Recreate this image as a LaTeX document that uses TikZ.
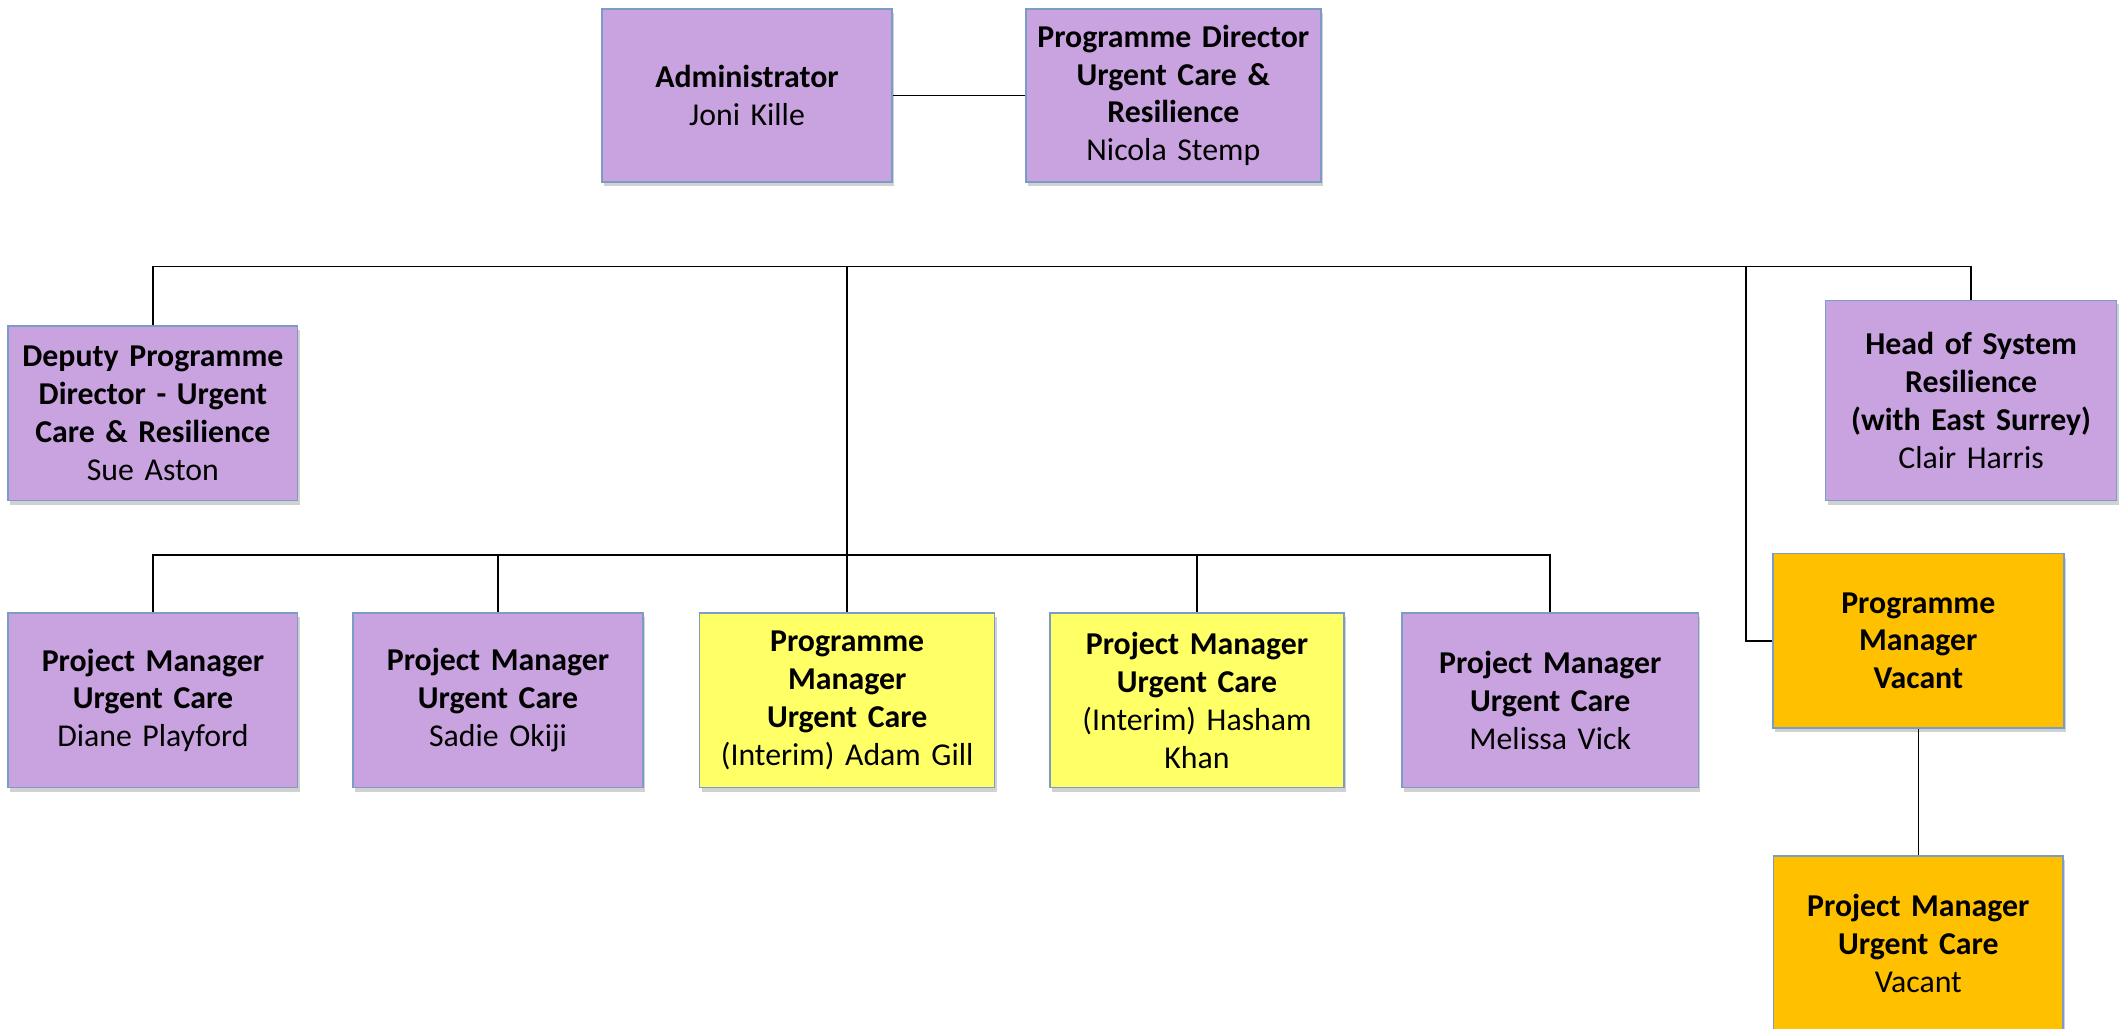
\documentclass[tikz,border=0pt]{standalone}
\usepackage{fontspec}
\setmainfont{Carlito}
\usetikzlibrary{shadows}
\definecolor{purp}{HTML}{C9A3E0}
\definecolor{yell}{HTML}{FFFF66}
\definecolor{gold}{HTML}{FFC000}
\definecolor{edge}{HTML}{7C9CC8}
\tikzset{
  box/.style={draw=edge, line width=1.1pt, rectangle, inner sep=0pt, align=center,
    minimum height=#1, font=\fontsize{23.5}{28}\selectfont,
    drop shadow={shadow xshift=1.5pt, shadow yshift=-3pt, opacity=0.18, fill=black}},
  box/.default=128pt,
  conn/.style={line width=1.2pt, black}
}
\begin{document}
\begin{tikzpicture}[x=1pt,y=-1pt]
\useasboundingbox (0,0) rectangle (1568,760);
% top row
\node[box, fill=purp, minimum width=214pt, text width=210pt] (admin) at (552,70.5)
  {\textbf{Administrator}\\Joni Kille};
\node[box, fill=purp, minimum width=218pt, text width=214pt] (director) at (867,70.5)
  {\textbf{Programme Director}\\\textbf{Urgent Care \&}\\\textbf{Resilience}\\Nicola Stemp};
% middle row
\node[box=129pt, fill=purp, minimum width=214pt, text width=210pt] (deputy) at (113,305.5)
  {\textbf{Deputy Programme}\\\textbf{Director - Urgent}\\\textbf{Care \& Resilience}\\Sue Aston};
\node[box=148pt, fill=purp, minimum width=215pt, text width=211pt] (head) at (1456.5,296)
  {\textbf{Head of System}\\\textbf{Resilience}\\\textbf{(with East Surrey)}\\Clair Harris};
% bottom row
\node[box=129pt, fill=purp, minimum width=214pt, text width=210pt] (diane) at (113,517.5)
  {\textbf{Project Manager}\\\textbf{Urgent Care}\\Diane Playford};
\node[box=129pt, fill=purp, minimum width=214pt, text width=210pt] (sadie) at (368,517.5)
  {\textbf{Project Manager}\\\textbf{Urgent Care}\\Sadie Okiji};
\node[box=129pt, fill=yell, minimum width=218pt, text width=214pt] (adam) at (626,517.5)
  {\textbf{Programme}\\\textbf{Manager}\\\textbf{Urgent Care}\\(Interim) Adam Gill};
\node[box=129pt, fill=yell, minimum width=217pt, text width=213pt] (hasham) at (884.5,517.5)
  {\textbf{Project Manager}\\\textbf{Urgent Care}\\(Interim) Hasham\\Khan};
\node[box=129pt, fill=purp, minimum width=219pt, text width=215pt] (melissa) at (1145.5,517.5)
  {\textbf{Project Manager}\\\textbf{Urgent Care}\\Melissa Vick};
% right column
\node[box=129pt, fill=gold, minimum width=215pt, text width=211pt] (pmvac) at (1417.5,473.5)
  {\textbf{Programme}\\\textbf{Manager}\\\textbf{Vacant}};
\node[box=129pt, fill=gold, minimum width=214pt, text width=210pt] (projvac) at (1417.5,697)
  {\textbf{Project Manager}\\\textbf{Urgent Care}\\Vacant};
% connectors
\coordinate (bus) at (0,197);
\coordinate (bus2) at (0,410);
\coordinate (tap) at (1290,197);
\draw[conn] (admin.east) -- (director.west);
\draw[conn] (deputy.north) -- (deputy.north |- bus) -- (head.north |- bus) -- (head.north);
\draw[conn] (adam.north |- bus) -- (adam.north);
\draw[conn] (diane.north) -- (diane.north |- bus2) -- (melissa.north |- bus2) -- (melissa.north);
\draw[conn] (sadie.north |- bus2) -- (sadie.north);
\draw[conn] (hasham.north |- bus2) -- (hasham.north);
\draw[conn] (tap) |- (pmvac.west);
\draw[conn] (pmvac.south) -- (projvac.north);
\end{tikzpicture}
\end{document}
